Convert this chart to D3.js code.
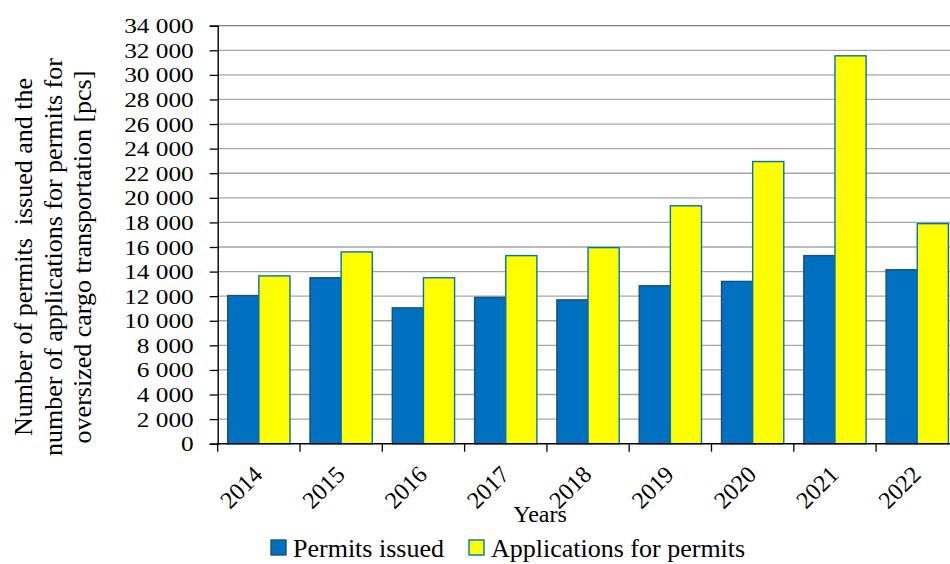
<!DOCTYPE html>
<html lang="en">
    <head>
        <meta charset="utf-8">
        <title>Oversized cargo permits</title>
        <script src="https://d3js.org/d3.v7.min.js"></script>
        <style>
            body { margin: 0; background: #fff; }
            text { font-family: "Liberation Serif", "Times New Roman", serif; fill: #000; }
        </style>
    </head>
    <body>
        <div class="permit-plot"></div>
        <script type="text/javascript">
            // values
            const years = ['2014', '2015', '2016', '2017', '2018', '2019', '2020', '2021', '2022'];
            const permitsIssued = [12050, 13500, 11050, 11900, 11700, 12850, 13200, 15300, 14150];
            const applications = [13650, 15600, 13500, 15300, 15950, 19350, 22950, 31550, 17900];
            const seriesNames = ['Permits issued', 'Applications for permits'];
            const yTicks = d3.range(0, 34001, 2000);

            const width = 950;
            const height = 564;
            const plotLeft = 217.7, plotRight = 958.4, plotTop = 25.7, plotBottom = 443.7;

            const svg = d3.select('.permit-plot')
                .append('svg')
                .attr('width', width)
                .attr('height', height);

            const x = d3.scaleBand()
                .domain(years)
                .range([plotLeft, plotRight])
                .paddingInner(0.243)
                .paddingOuter(0.1215);

            const xSeries = d3.scaleBand()
                .domain(seriesNames)
                .range([0, x.bandwidth()]);

            const y = d3.scaleLinear()
                .domain([0, 34000])
                .range([plotBottom, plotTop]);

            const fmt = d3.formatLocale({decimal: '.', thousands: ' ', grouping: [3], currency: ['', '']}).format(',');

            // gridlines
            svg.append('g')
                .selectAll('line')
                .data(yTicks.slice(1))
                .enter()
                .append('line')
                .attr('x1', plotLeft)
                .attr('x2', plotRight)
                .attr('y1', d => y(d))
                .attr('y2', d => y(d))
                .attr('stroke', d => d === 34000 ? '#808080' : '#a6a6a6')
                .attr('stroke-width', 1.3);

            // bars
            const rows = years.map((yr, i) => ({year: yr, values: [permitsIssued[i], applications[i]]}));
            const fills = ['#0070c0', '#ffff00'];
            const strokes = ['#1f4e79', '#0070c0'];

            const groups = svg.append('g')
                .selectAll('g')
                .data(rows)
                .enter()
                .append('g')
                .attr('transform', d => 'translate(' + x(d.year) + ',0)');

            groups.selectAll('rect')
                .data(d => d.values.map((v, j) => ({name: seriesNames[j], value: v, j: j})))
                .enter()
                .append('rect')
                .attr('x', d => xSeries(d.name))
                .attr('y', d => y(d.value))
                .attr('width', xSeries.bandwidth())
                .attr('height', d => plotBottom - y(d.value))
                .attr('fill', d => fills[d.j])
                .attr('stroke', d => strokes[d.j])
                .attr('stroke-width', 1.4);

            // y axis
            const yAxis = svg.append('g')
                .attr('transform', 'translate(' + plotLeft + ',0)')
                .call(d3.axisLeft(y).tickValues(yTicks).tickSize(8).tickPadding(16).tickFormat(fmt));
            yAxis.select('.domain').attr('stroke', '#000').attr('stroke-width', 1.4);
            yAxis.selectAll('.tick line').attr('stroke', '#000').attr('stroke-width', 1.3);
            yAxis.selectAll('.tick text')
                .attr('font-size', 22)
                .attr('font-family', '"Liberation Serif", serif')
                .attr('x', -24 / 1.15)
                .attr('transform', 'scale(1.15,1)');

            // x axis: ticks sit on the category boundaries
            const xStep = x.step();
            const xEdges = d3.range(years.length + 1).map(k => plotLeft + k * xStep);
            svg.append('line')
                .attr('x1', plotLeft)
                .attr('x2', plotRight)
                .attr('y1', plotBottom)
                .attr('y2', plotBottom)
                .attr('stroke', '#000')
                .attr('stroke-width', 1.4);
            svg.append('g')
                .selectAll('line')
                .data(xEdges)
                .enter()
                .append('line')
                .attr('x1', d => d)
                .attr('x2', d => d)
                .attr('y1', plotBottom)
                .attr('y2', plotBottom + 8)
                .attr('stroke', '#000')
                .attr('stroke-width', 1.3);

            svg.append('g')
                .selectAll('text')
                .data(years)
                .enter()
                .append('text')
                .attr('transform', d => 'translate(' + (x(d) + x.bandwidth() / 2 + 5) + ',476) rotate(-45)')
                .attr('text-anchor', 'end')
                .attr('font-size', 24)
                .text(d => d);

            // axis titles
            svg.append('text')
                .attr('x', 540)
                .attr('y', 522)
                .attr('text-anchor', 'middle')
                .attr('font-size', 24)
                .text('Years');

            const yTitle = ['Number of permits\u00a0 issued and the',
                'number of applications for permits for',
                'oversized cargo transportation [pcs]'];
            svg.append('g')
                .selectAll('text')
                .data(yTitle)
                .enter()
                .append('text')
                .attr('transform', (d, i) => 'translate(' + (32 + i * 29.5) + ',257) rotate(-90)')
                .attr('text-anchor', 'middle')
                .attr('font-size', 26)
                .text(d => d);

            // legend (nudged up a little so the descenders stay inside the frame)
            const legendX = [271, 469];
            const legend = svg.append('g')
                .selectAll('g')
                .data(seriesNames)
                .enter()
                .append('g')
                .attr('transform', (d, i) => 'translate(' + legendX[i] + ',540)');
            legend.append('rect')
                .attr('width', 15)
                .attr('height', 15)
                .attr('fill', (d, i) => fills[i])
                .attr('stroke', (d, i) => strokes[i])
                .attr('stroke-width', 1.4);
            legend.append('text')
                .attr('x', 22)
                .attr('y', 17)
                .attr('font-size', 26)
                .text(d => d);
        </script>
    </body>
</html>
